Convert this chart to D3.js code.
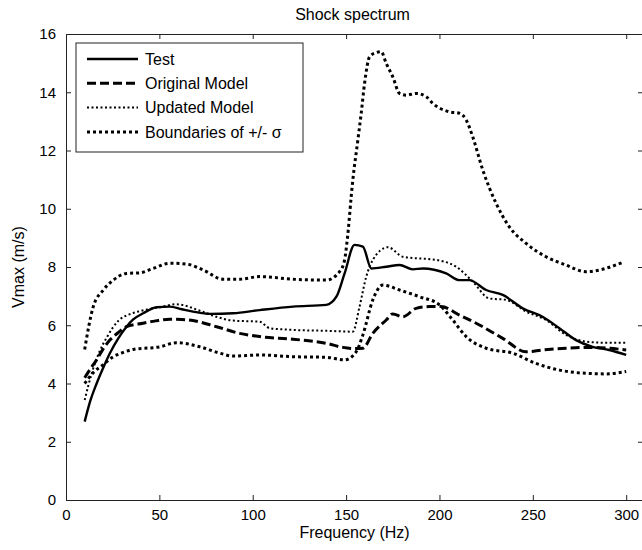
<!DOCTYPE html>
<html>
<head>
<meta charset="utf-8">
<script src="https://cdn.jsdelivr.net/npm/d3@7"></script>
<style>
  body { margin: 0; background: #fff; }
  text { font-family: "Liberation Sans", Arial, sans-serif; fill: #000; }
</style>
</head>
<body>
<div id="chart"></div>
<script>
// Shock spectrum, [Hz, m/s]
var testData = [[10,2.69],[13,3.4],[16.4,4.0],[20,4.55],[23.5,5.04],[28,5.55],[32.4,5.95],[36,6.2],
  [41.3,6.41],[48.5,6.62],[55.6,6.64],[62,6.55],[68,6.47],[77,6.39],[89.5,6.41],[103.7,6.52],
  [121.6,6.64],[139.4,6.7],[144.8,6.98],[149.2,7.78],[154.5,8.76],[159,8.7],[163.5,7.95],
  [171.5,8.01],[178.6,8.07],[185.7,7.92],[191.1,7.95],[203.6,7.78],[210.7,7.55],[216,7.55],
  [225,7.21],[233.9,7.04],[244.6,6.58],[255.2,6.29],[264.2,5.9],[273.1,5.49],[282,5.26],
  [290.9,5.15],[300,4.98]];

var originalModel = [[10,4.2],[13,4.5],[16.4,4.81],[20,5.2],[23.5,5.49],[28,5.75],[32.4,5.95],
  [41.3,6.07],[48,6.15],[55.6,6.21],[62,6.2],[68,6.16],[80.6,5.95],[93,5.72],[103.7,5.61],
  [121.6,5.52],[139.4,5.38],[148.3,5.24],[155,5.2],[159,5.21],[164.3,5.72],[171.5,6.18],
  [175,6.39],[180.4,6.29],[187.5,6.58],[194.7,6.64],[200.9,6.64],[210.7,6.35],[221.4,6.01],
  [233.9,5.55],[246.4,5.09],[255.2,5.15],[267.7,5.21],[280.2,5.24],[290.9,5.21],[300,5.15]];

var updatedModel = [[10,3.43],[14,4.4],[18,5.1],[22,5.6],[28,6.15],[35,6.4],[40,6.49],
  [50.3,6.62],[59.2,6.72],[71.7,6.5],[80.6,6.29],[89.5,6.16],[103.7,6.12],[109.1,5.9],
  [121.6,5.84],[139.4,5.81],[153.6,5.78],[157.2,6.64],[160.8,7.67],[164.3,8.24],[172.4,8.68],
  [180.4,8.35],[187.5,8.3],[196.4,8.26],[208.9,8.01],[217.8,7.5],[226.7,6.92],[235.7,6.87],
  [246.4,6.47],[257.1,6.18],[267.8,5.67],[278.5,5.44],[289.2,5.4],[300,5.4]];

var upperBound = [[10,5.17],[14.6,6.64],[20,7.21],[25.3,7.55],[32.4,7.78],[39.6,7.8],[46.7,7.95],
  [55.6,8.13],[64.5,8.1],[73.4,7.9],[84.1,7.58],[93,7.58],[103.7,7.67],[121.6,7.58],[139.4,7.55],
  [146.5,7.84],[149.2,8.24],[150.4,8.81],[153.6,10.99],[156.3,12.36],[158.1,13.28],[159.9,14.31],
  [162.6,15.22],[166.1,15.36],[168.8,15.39],[171.5,14.99],[175,14.53],[178.6,13.96],[182.2,13.9],
  [187.5,13.96],[192.9,13.85],[196.4,13.62],[205.3,13.33],[210.7,13.28],[214.3,13.05],
  [217.8,12.47],[223.2,11.33],[230.3,10.19],[237.4,9.38],[246.4,8.81],[257.1,8.35],[267.7,8.07],
  [278.4,7.84],[287.3,7.92],[294.5,8.07],[299,8.18]];

var lowerBound = [[10,4.0],[15,4.4],[20,4.65],[25.3,4.92],[30,5.05],[36,5.17],[50.3,5.26],
  [59.2,5.4],[71.7,5.26],[82.4,5.04],[89.5,4.94],[103.7,4.98],[121.6,4.92],[139.4,4.9],
  [149.2,4.81],[155.4,5.09],[159,5.67],[164.3,6.87],[169.7,7.38],[178.6,7.21],[189.3,6.98],
  [200,6.7],[207.1,6.18],[214.3,5.61],[225,5.21],[239.2,5.04],[251.7,4.69],[264.2,4.46],
  [278.5,4.35],[289.2,4.33],[300,4.41]];

var xTicks = [0, 50, 100, 150, 200, 250, 300];
var yTicks = [0, 2, 4, 6, 8, 10, 12, 14, 16];
var legendLabels = ["Test", "Original Model", "Updated Model", "Boundaries of +/- \u03c3"];

var w = 642, h = 550;
// plot box (note: "top" is reserved on window, so use a margin object)
var box = {left: 66, right: 643, top: 34, bottom: 500};

var svg = d3.select("#chart").append("svg")
  .attr("width", w)
  .attr("height", h);

var x = d3.scaleLinear().domain([0, 309]).range([box.left, box.right]);
var y = d3.scaleLinear().domain([0, 16]).range([box.bottom, box.top]);

// styles for each series
var styles = [
  {width: 2.4, dash: null},
  {width: 3, dash: "9,4"},
  {width: 2, dash: "2,2.5"},
  {width: 3, dash: "3,3"}
];

// axes box with inward ticks, matlab style
var tickLen = 5;
function axisStyle(g) {
  g.select(".domain").attr("stroke", "#222").attr("stroke-width", 1);
  g.selectAll(".tick line").attr("stroke", "#222");
  g.selectAll(".tick text").style("font-size", "15px");
}

svg.append("g")
  .attr("transform", "translate(0," + box.bottom + ")")
  .call(d3.axisBottom(x).tickValues(xTicks).tickSizeInner(-tickLen).tickSizeOuter(0).tickPadding(9))
  .call(axisStyle);

svg.append("g")
  .attr("transform", "translate(0," + box.top + ")")
  .call(d3.axisTop(x).tickValues(xTicks).tickSizeInner(-tickLen).tickSizeOuter(0).tickFormat(""))
  .call(axisStyle);

svg.append("g")
  .attr("transform", "translate(" + box.left + ",0)")
  .call(d3.axisLeft(y).tickValues(yTicks).tickSizeInner(-tickLen).tickSizeOuter(0).tickPadding(10))
  .call(axisStyle);

svg.append("g")
  .attr("transform", "translate(" + box.right + ",0)")
  .call(d3.axisRight(y).tickValues(yTicks).tickSizeInner(-tickLen).tickSizeOuter(0).tickFormat(""))
  .call(axisStyle);

// curves
var line = d3.line()
  .x(function(d) { return x(d[0]); })
  .y(function(d) { return y(d[1]); })
  .curve(d3.curveMonotoneX);

var series = [
  {data: testData, s: styles[0]},
  {data: originalModel, s: styles[1]},
  {data: updatedModel, s: styles[2]},
  {data: upperBound, s: styles[3]},
  {data: lowerBound, s: styles[3]}
];

svg.append("g").selectAll("path")
  .data(series)
  .enter().append("path")
  .attr("d", function(d) { return line(d.data); })
  .attr("fill", "none")
  .attr("stroke", "#000")
  .attr("stroke-width", function(d) { return d.s.width; })
  .attr("stroke-dasharray", function(d) { return d.s.dash; });

// titles
svg.append("text")
  .attr("x", (box.left + box.right) / 2 - 2)
  .attr("y", 20)
  .attr("text-anchor", "middle")
  .style("font-size", "16px")
  .text("Shock spectrum");

svg.append("text")
  .attr("x", (box.left + box.right) / 2)
  .attr("y", 538)
  .attr("text-anchor", "middle")
  .style("font-size", "16px")
  .text("Frequency (Hz)");

svg.append("text")
  .attr("transform", "translate(24," + (box.top + box.bottom) / 2 + ") rotate(-90)")
  .attr("text-anchor", "middle")
  .style("font-size", "16px")
  .text("Vmax (m/s)");

// legend
var legend = svg.append("g");
legend.append("rect")
  .attr("x", 76).attr("y", 43)
  .attr("width", 227).attr("height", 109)
  .attr("fill", "#fff")
  .attr("stroke", "#222")
  .attr("stroke-width", 1);

var rows = legend.selectAll("g.row")
  .data(legendLabels)
  .enter().append("g")
  .attr("class", "row")
  .attr("transform", function(d, i) { return "translate(0," + (59 + i * 24.3) + ")"; });

rows.append("line")
  .attr("x1", 87).attr("x2", 138)
  .attr("stroke", "#000")
  .attr("stroke-width", function(d, i) { return styles[i].width; })
  .attr("stroke-dasharray", function(d, i) { return styles[i].dash; });

rows.append("text")
  .attr("x", 145)
  .attr("dy", "0.35em")
  .style("font-size", "16px")
  .text(function(d) { return d; });
</script>
</body>
</html>
